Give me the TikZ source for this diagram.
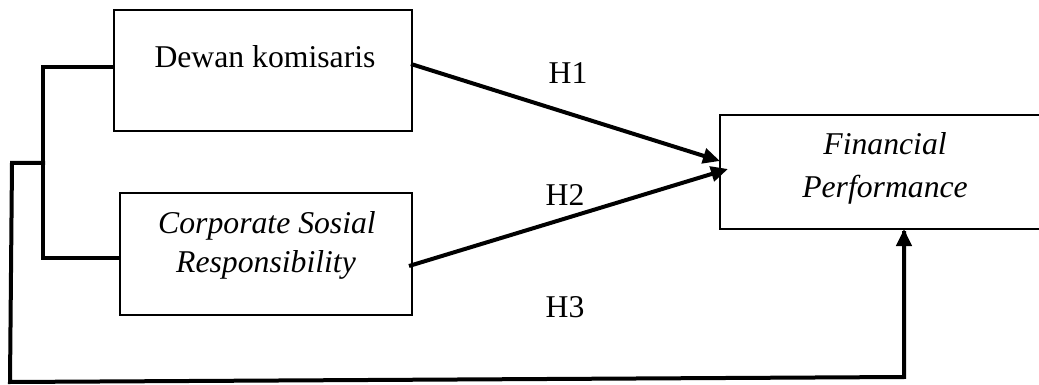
\documentclass[tikz,border=0pt]{standalone}
\usepackage{fontspec}
\setmainfont{Liberation Serif}
\usetikzlibrary{arrows.meta}
\begin{document}
\begin{tikzpicture}[x=1pt,y=-1pt,
  boxstyle/.style={draw, line width=1.4pt, inner sep=0pt, outer sep=0pt},
  txt/.style={inner sep=0pt, anchor=base, font=\fontsize{31.7}{41.7}\selectfont},
  itxt/.style={txt, font=\fontsize{31.7}{41.7}\selectfont\itshape, align=center},
  conn/.style={line width=4pt, line join=miter},
  arr/.style={conn, -{Triangle[length=17pt,width=15pt]}}]
\useasboundingbox (0,0) rectangle (1039,385);
\clip (0,0) rectangle (1039,385);
% boxes
\node[boxstyle, minimum width=298pt, minimum height=121pt] (box1) at (263,70.5) {};
\node[boxstyle, minimum width=292pt, minimum height=122pt] (box2) at (266,254) {};
\node[boxstyle, minimum width=330pt, minimum height=114pt] (box3) at (885,172) {};
% texts
\node[txt] (t1) at (265,68) {Dewan komisaris};
\node[itxt] (t2a) at (267,233) {Corporate Sosial};
\node[itxt] (t2b) at (266,272) {Responsibility};
\node[itxt] (t3a) at (885,155) {Financial};
\node[itxt] (t3b) at (885,197) {Performance};
\node[txt] (h1) at (568,84) {H1};
\node[txt] (h2) at (565,205) {H2};
\node[txt] (h3) at (565,317) {H3};
% connector points
\coordinate (a1) at (411,64);
\coordinate (a2) at (409,266);
\coordinate (e1) at (720,161);
\coordinate (e2) at (728,169);
\coordinate (b1) at (43,67);
\coordinate (b2) at (49,258);
\coordinate (m1) at (45,163);
\coordinate (m2) at (12,163);
\coordinate (c1) at (10,382);
\coordinate (c2) at (904,377);
\coordinate (c3) at (903,231);
% arrows H1, H2
\draw[arr] (a1) -- (e1);
\draw[arr] (a2) -- (e2);
% bracket
\draw[conn] (box1.west |- b1) -- (b1) -- (b1 |- b2) -- (box2.west |- b2);
\draw[conn] (m1) -- (m2) -- (c1) -- (c2) -- (c2 |- c3);
\draw[arr] (c2) -- (c2 |- box3.south);
\end{tikzpicture}
\end{document}
